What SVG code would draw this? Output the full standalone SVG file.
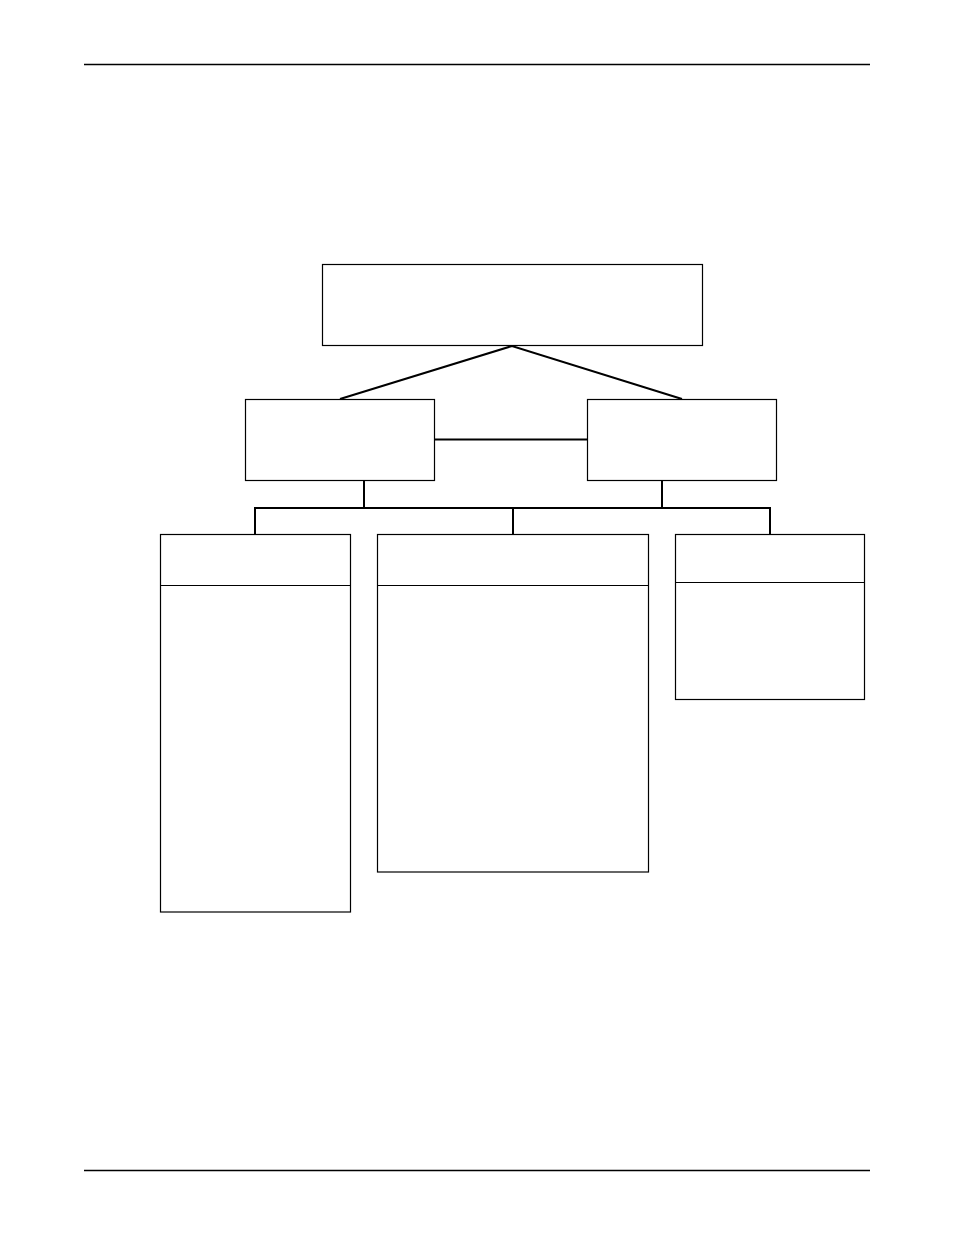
<svg xmlns="http://www.w3.org/2000/svg" width="954" height="1235" viewBox="0 0 954 1235">
<style>
.box{fill:#fff;stroke:#000;stroke-width:1.2}
.div{stroke:#000;stroke-width:1.2}
.con{stroke:#000;stroke-width:2;fill:none}
.rule{stroke:#000;stroke-width:1.3}
</style>
<rect width="954" height="1235" fill="#fff"/>
<line class="rule" x1="84" y1="64.5" x2="870" y2="64.5"/>
<line class="rule" x1="84" y1="1170.5" x2="870" y2="1170.5"/>
<g id="connectors">
<polyline class="con" points="340,399 512,346 682,399"/>
<line class="con" x1="434" y1="439.5" x2="587" y2="439.5"/>
<line class="con" x1="364" y1="480" x2="364" y2="508"/>
<line class="con" x1="662" y1="480" x2="662" y2="508"/>
<line class="con" x1="254" y1="508" x2="771" y2="508"/>
<line class="con" x1="255" y1="507" x2="255" y2="534.5"/>
<line class="con" x1="513" y1="507" x2="513" y2="534.5"/>
<line class="con" x1="770" y1="507" x2="770" y2="534.5"/>
</g>
<g id="top"><rect class="box" x="322.5" y="264.5" width="380" height="81"/></g>
<g id="midLeft"><rect class="box" x="245.5" y="399.5" width="189" height="81"/></g>
<g id="midRight"><rect class="box" x="587.5" y="399.5" width="189" height="81"/></g>
<g id="botLeft"><rect class="box" x="160.5" y="534.5" width="190" height="377.5"/><line class="div" x1="160.5" y1="585.5" x2="350.5" y2="585.5"/></g>
<g id="botMid"><rect class="box" x="377.5" y="534.5" width="271" height="337.5"/><line class="div" x1="377.5" y1="585.5" x2="648.5" y2="585.5"/></g>
<g id="botRight"><rect class="box" x="675.5" y="534.5" width="189" height="165"/><line class="div" x1="675.5" y1="582.5" x2="864.5" y2="582.5"/></g>
</svg>
